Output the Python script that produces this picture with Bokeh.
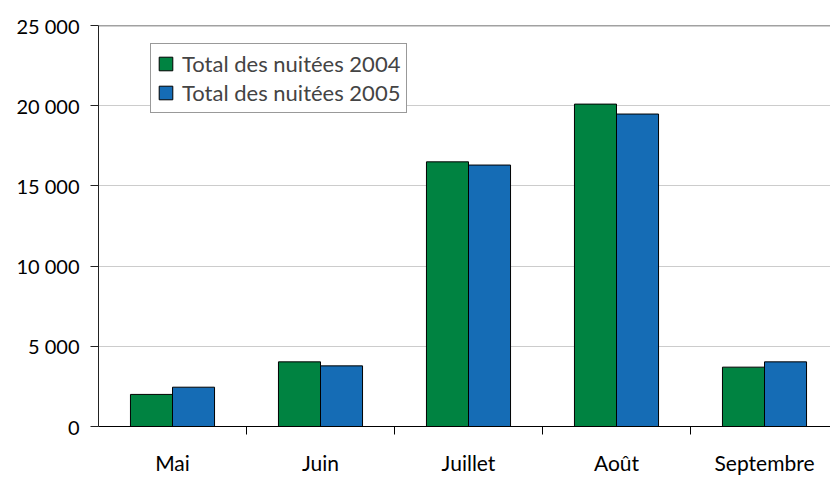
from bokeh.plotting import figure
from bokeh.models import Range1d, FixedTicker, Span, Legend, LegendItem, ColumnDataSource
from bokeh.embed import file_html
from bokeh.resources import INLINE

months = ["Mai", "Juin", "Juillet", "Août", "Septembre"]
nuitees_2004 = [2000, 4030, 16500, 20100, 3700]
nuitees_2005 = [2450, 3780, 16300, 19480, 4030]
series_names = ["Total des nuitées 2004", "Total des nuitées 2005"]
y_ticks = [0, 5000, 10000, 15000, 20000, 25000]
y_tick_labels = ["0", "5 000", "10 000", "15 000", "20 000", "25 000"]

GREEN = "#008341"
BLUE = "#156cb5"
FONT = "Lato"
bar_w = 0.284

centers = [i + 0.5 for i in range(len(months))]
src = ColumnDataSource(dict(
    x04=[c - bar_w / 2 for c in centers],
    x05=[c + bar_w / 2 for c in centers],
    v04=nuitees_2004,
    v05=nuitees_2005,
))

p = figure(width=830, height=477, output_backend="svg", toolbar_location=None,
           x_range=Range1d(0, 732 / 148), y_range=Range1d(0, 25000),
           min_border_left=98, min_border_right=0, min_border_top=25, min_border_bottom=0)
p.outline_line_color = None
p.background_fill_color = "white"
p.border_fill_color = "white"

r04 = p.vbar(x="x04", top="v04", width=bar_w, source=src, fill_color=GREEN,
             line_color="black", line_width=1)
r05 = p.vbar(x="x05", top="v05", width=bar_w, source=src, fill_color=BLUE,
             line_color="black", line_width=1)

# y axis
p.yaxis.ticker = FixedTicker(ticks=y_ticks)
p.yaxis.major_label_overrides = {t: l for t, l in zip(y_ticks, y_tick_labels)}
p.yaxis.major_tick_out = 8
p.yaxis.major_tick_in = 0
p.yaxis.minor_tick_line_color = None
p.yaxis.major_label_standoff = 11
p.yaxis.axis_line_color = "#222222"
p.yaxis.major_tick_line_color = "#222222"
p.yaxis.major_label_text_font = FONT
p.yaxis.major_label_text_font_size = "20px"
p.yaxis.major_label_text_color = "black"

# x axis: labels at centers, ticks at boundaries (minor ticks)
p.xaxis.ticker = FixedTicker(ticks=centers, minor_ticks=[1, 2, 3, 4])
p.xaxis.major_label_overrides = {c: m for c, m in zip(centers, months)}
p.xaxis.major_tick_line_color = None
p.xaxis.minor_tick_out = 8
p.xaxis.minor_tick_in = 0
p.xaxis.minor_tick_line_color = "black"
p.xaxis.axis_line_color = "black"
p.xaxis.major_label_standoff = 15
p.xaxis.major_label_text_font = FONT
p.xaxis.major_label_text_font_size = "21px"
p.xaxis.major_label_text_color = "black"

p.xgrid.grid_line_color = None
p.ygrid.ticker = FixedTicker(ticks=y_ticks[1:-1])
p.ygrid.grid_line_color = "#cccccc"
p.ygrid.grid_line_width = 1

p.add_layout(Span(location=25000, dimension="width", line_color="#444444", line_width=1.5))

legend = Legend(items=[LegendItem(label=series_names[0], renderers=[r04]),
                       LegendItem(label=series_names[1], renderers=[r05])],
                location=(52, 313), orientation="vertical")
legend.border_line_color = "#333333"
legend.border_line_width = 1
legend.background_fill_alpha = 1
legend.label_text_font = FONT
legend.label_text_font_size = "22px"
legend.glyph_height = 17
legend.glyph_width = 17
legend.label_height = 17
legend.spacing = 2
legend.padding = 6
legend.margin = 0
legend.label_standoff = 8
p.add_layout(legend, "center")

open("out.html", "w").write(file_html(p, INLINE))
